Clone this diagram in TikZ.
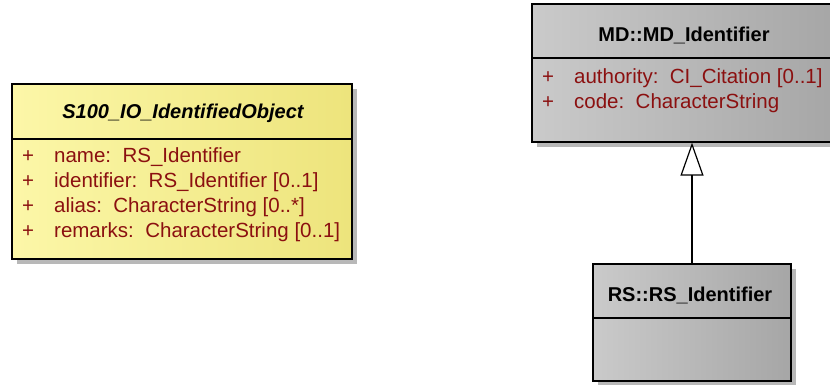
\documentclass[tikz,border=0pt]{standalone}
\usepackage{fontspec}
\setmainfont{Liberation Sans}
\usepackage{xcolor}
\usetikzlibrary{arrows.meta, positioning, shadows}
\definecolor{attrred}{HTML}{8B1010}
\definecolor{classyellow}{HTML}{FCF7A8}
\definecolor{classyellowdk}{HTML}{EDE47C}
\definecolor{classgray}{HTML}{CACACA}
\definecolor{classgraydk}{HTML}{A6A6A6}
\newcommand{\umlattr}[1]{\makebox[32pt][l]{+}#1}

\begin{document}
\begin{tikzpicture}[x=1pt, y=-1pt,
            classbox/.style={draw=black, line width=1.3pt, inner sep=0pt,
                            drop shadow={shadow xshift=5pt, shadow yshift=-5pt,
                                         fill=black!28, opacity=1}},
            yellowclass/.style={classbox, left color=classyellow, right color=classyellowdk},
            grayclass/.style={classbox, left color=classgray, right color=classgraydk},
            classname/.style={font=\fontsize{20}{24}\selectfont\bfseries},
            attr/.style={anchor=west, inner sep=0pt, text=attrred,
                         font=\fontsize{20.5}{24}\selectfont},
            divider/.style={line width=1.3pt},
            every node/.style={font=\fontsize{20}{24}\selectfont},
        ]
            \useasboundingbox (0,0) rectangle (830,385);
            % S100 class
            \node[yellowclass, minimum width=340pt, minimum height=175pt] (ident) at (182,171.5) {};
            \node[classname] (identname) at (183,113) {\itshape S100\_IO\_IdentifiedObject};
            \draw[divider] (12,139) -- (352,139);
            \node[attr] (a1) at (22,157) {\umlattr{name:\ \ RS\_Identifier}};
            \node[attr] (a2) at (22,182) {\umlattr{identifier:\ \ RS\_Identifier [0..1]}};
            \node[attr] (a3) at (22,207) {\umlattr{alias:\ \ CharacterString [0..*]}};
            \node[attr] (a4) at (22,232) {\umlattr{remarks:\ \ CharacterString [0..1]}};
            % MD class
            \node[grayclass, minimum width=304pt, minimum height=138pt] (md) at (684,73) {};
            \node[classname] (mdname) at (684,35) {MD::MD\_Identifier};
            \draw[divider] (532,58) -- (836,58);
            \node[attr] (m1) at (542,78) {\umlattr{authority:\ \ CI\_Citation [0..1]}};
            \node[attr] (m2) at (542,103) {\umlattr{code:\ \ CharacterString}};
            % RS class
            \node[grayclass, minimum width=198pt, minimum height=117pt] (rs) at (692,322.5) {};
            \node[classname] (rsname) at (690,295) {RS::RS\_Identifier};
            \draw[divider] (593,318) -- (791,318);
            % generalization
            \draw[line width=1.2pt, -{Triangle[open, width=23pt, length=33pt]}]
                (rs.north) -- (rs.north |- md.south);
        \end{tikzpicture}
\end{document}
